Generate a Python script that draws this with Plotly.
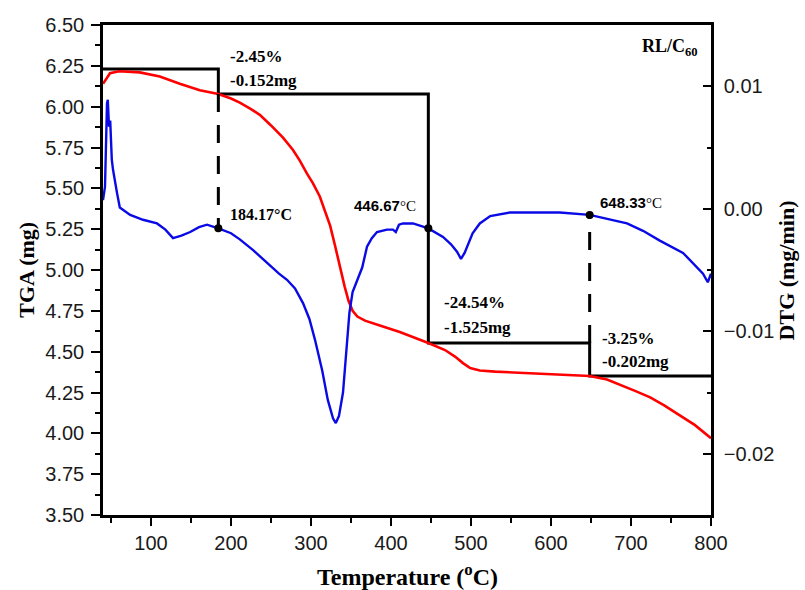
import plotly.graph_objects as go

# ---------------- data ----------------
tga_temp = [40, 44, 48.75, 60, 86, 111, 136, 161, 184.17, 200, 211, 225, 236, 250, 265, 277.5,
            286, 295, 302.5, 311, 318, 324, 330, 336, 342, 347, 352, 358, 367.5, 386, 411,
            446.67, 467.5, 480, 490, 499, 511, 530, 561, 611, 648.33, 670, 686, 705, 724,
            742, 761, 780, 800]
tga_mass = [6.14, 6.17, 6.205, 6.217, 6.21, 6.185, 6.14, 6.10, 6.078, 6.05, 6.025, 5.985,
            5.95, 5.885, 5.81, 5.735, 5.67, 5.59, 5.53, 5.45, 5.36, 5.27, 5.15, 5.02, 4.90,
            4.81, 4.75, 4.715, 4.69, 4.66, 4.62, 4.553, 4.51, 4.47, 4.43, 4.40, 4.385, 4.378,
            4.37, 4.357, 4.351, 4.33, 4.30, 4.26, 4.22, 4.17, 4.11, 4.05, 3.97]

dtg_temp = [40, 42.5, 45, 46, 47.5, 49, 51, 52.5, 57.5, 61, 74, 90, 107.5, 118, 127.5, 138,
            149, 160, 170, 184.17, 200, 211, 228, 245, 260, 270, 280, 290, 298, 305, 314,
            321, 327.5, 331, 335, 340, 344, 348, 352, 358, 364, 370, 376, 382.5, 395, 402.5,
            406, 410, 415, 427.5, 446.67, 465, 475, 482.5, 487.5, 492, 496, 502, 511, 524,
            549, 611, 648.33, 670, 695, 715, 736, 765, 790, 796, 800]
dtg_rate = [0.0007, 0.0018, 0.0086, 0.0089, 0.0067, 0.0072, 0.0040, 0.0032, 0.0013, 0.0001,
            -0.0005, -0.0009, -0.0012, -0.0017, -0.0024, -0.0022, -0.0019, -0.0015, -0.0013,
            -0.0016, -0.0020, -0.0025, -0.0034, -0.0044, -0.0053, -0.0058, -0.0065, -0.0077,
            -0.0090, -0.0107, -0.0132, -0.0156, -0.0171, -0.0175, -0.0169, -0.0150, -0.0115,
            -0.0085, -0.0068, -0.0058, -0.0048, -0.0031, -0.0024, -0.0019, -0.0017, -0.0017,
            -0.0019, -0.0013, -0.0012, -0.0012, -0.0016, -0.0023, -0.0029, -0.0035, -0.0041,
            -0.0036, -0.0030, -0.0020, -0.0012, -0.0006, -0.0003, -0.0003, -0.0005, -0.0008,
            -0.0012, -0.0018, -0.0026, -0.0036, -0.0053, -0.0060, -0.0053]

initial_mass = 6.23
step_temps = [184.17, 446.67, 648.33]
step_loss_mg = [0.152, 1.525, 0.202]
step_loss_pct = ["-2.45%", "-24.54%", "-3.25%"]
step_loss_lbl = ["-0.152mg", "-1.525mg", "-0.202mg"]
peak_dtg = [-0.0016, -0.0016, -0.0005]
peak_labels = ["184.17°C", "446.67°C", "648.33°C"]

x_range = [40, 800]
y1_range = [3.5, 6.5]
y2_range = [-0.025, 0.015]

# ---------------- derived step levels ----------------
levels = [initial_mass]
for d in step_loss_mg:
    levels.append(levels[-1] - d)

step_x = [x_range[0]]
step_y = [levels[0]]
for i, t in enumerate(step_temps):
    step_x += [t, t]
    step_y += [levels[i], levels[i + 1]]
step_x.append(x_range[1])
step_y.append(levels[-1])


def y2_to_y1(v):
    return y1_range[0] + (v - y2_range[0]) / (y2_range[1] - y2_range[0]) * (y1_range[1] - y1_range[0])


SERIF = "Liberation Serif, Times New Roman, serif"
SANS = "Liberation Sans, Arial, sans-serif"

fig = go.Figure()

fig.add_trace(go.Scatter(x=step_x, y=step_y, mode="lines",
                         line=dict(color="black", width=3), showlegend=False, hoverinfo="skip"))
fig.add_trace(go.Scatter(x=tga_temp, y=tga_mass, mode="lines",
                         line=dict(color="#ff0000", width=2.6),
                         showlegend=False, name="TGA"))
fig.add_trace(go.Scatter(x=dtg_temp, y=dtg_rate, mode="lines", yaxis="y2",
                         line=dict(color="#0a0ae6", width=2.4), showlegend=False, name="DTG"))
fig.add_trace(go.Scatter(x=step_temps, y=peak_dtg, mode="markers", yaxis="y2",
                         marker=dict(color="black", size=8), showlegend=False, hoverinfo="skip"))

# dashed connectors (184.17 and 648.33)
dash_pairs = [(step_temps[0], levels[1], peak_dtg[0]), (step_temps[2], levels[2], peak_dtg[2])]
for t, lvl, pk in dash_pairs:
    fig.add_shape(type="line", xref="x", yref="y", x0=t, x1=t, y0=lvl, y1=y2_to_y1(pk),
                  line=dict(color="black", width=3, dash="18px,13px"))

ann = []
# loss labels
loss_pos = [(196, 6.31, 6.163), (463.5, 4.798, 4.651), (661, 4.578, 4.437)]
for (xx, ya, yb), p, m in zip(loss_pos, step_loss_pct, step_loss_lbl):
    ann.append(dict(x=xx, y=ya, text="<b>" + p + "</b>", xref="x", yref="y", xanchor="left",
                    yanchor="middle", showarrow=False,
                    font=dict(family=SERIF, size=17, color="black")))
    ann.append(dict(x=xx, y=yb, text="<b>" + m + "</b>", xref="x", yref="y", xanchor="left",
                    yanchor="middle", showarrow=False,
                    font=dict(family=SERIF, size=17, color="black")))

# peak labels
ann.append(dict(x=196, y=5.337, text="<b>184.17°C</b>", xref="x", yref="y", xanchor="left",
                yanchor="middle", showarrow=False, font=dict(family=SERIF, size=16, color="black")))
for xx, yy, lbl in [(351, 5.392, peak_labels[1]), (658.5, 5.416, peak_labels[2])]:
    num, unit = lbl[:-2], lbl[-2:]
    ann.append(dict(x=xx, y=yy, xref="x", yref="y", xanchor="left", yanchor="middle",
                    text="<b>" + num + "</b><span style='font-family:Liberation Serif'>" + unit + "</span>",
                    showarrow=False, font=dict(family=SANS, size=15, color="black")))

# sample name
ann.append(dict(x=711, y=6.36, text="<b>RL/C<sub>60</sub></b>", xref="x", yref="y",
                xanchor="left", yanchor="middle", showarrow=False,
                font=dict(family=SERIF, size=18, color="black")))

# axis titles
ann.append(dict(x=-0.127, y=0.5, xref="paper", yref="paper", text="<b>TGA (mg)</b>",
                textangle=-90, showarrow=False, xanchor="center", yanchor="middle",
                font=dict(family=SERIF, size=22, color="black")))
ann.append(dict(x=1.124, y=0.5, xref="paper", yref="paper", text="<b>DTG (mg/min)</b>",
                textangle=-90, showarrow=False, xanchor="center", yanchor="middle",
                font=dict(family=SERIF, size=22, color="black")))
ann.append(dict(x=0.5, y=-0.122, xref="paper", yref="paper",
                text="<b>Temperature (<sup>o</sup>C)</b>", showarrow=False,
                xanchor="center", yanchor="middle", font=dict(family=SERIF, size=24, color="black")))

tickfont = dict(family=SANS, size=20, color="#1a1a1a")

fig.update_layout(
    width=805, height=590,
    margin=dict(l=103, r=94, t=25, b=75),
    paper_bgcolor="white", plot_bgcolor="white",
    annotations=ann,
    xaxis=dict(range=x_range, dtick=100, tick0=0, showgrid=False, zeroline=False,
               showline=True, linecolor="black", linewidth=2.5, mirror=True,
               ticks="outside", ticklen=8, tickwidth=2, tickcolor="black",
               minor=dict(dtick=50, tick0=0, ticks="outside", ticklen=5, tickwidth=2,
                          tickcolor="black", showgrid=False),
               tickfont=tickfont),
    yaxis=dict(range=y1_range, dtick=0.25, tick0=0, tickformat=".2f", showgrid=False,
               zeroline=False, showline=True, linecolor="black", linewidth=2.5,
               ticks="outside", ticklen=9, tickwidth=2, tickcolor="black",
               minor=dict(dtick=0.125, tick0=0, ticks="outside", ticklen=5, tickwidth=2,
                          tickcolor="black", showgrid=False),
               tickfont=tickfont, ticklabelstandoff=3),
    yaxis2=dict(range=y2_range, dtick=0.01, tick0=0, tickformat=".2f", overlaying="y",
                side="right", showgrid=False, zeroline=False, showline=True,
                linecolor="black", linewidth=2.5, ticks="inside", ticklen=8, tickwidth=2,
                tickcolor="black",
                minor=dict(dtick=0.005, tick0=0, ticks="inside", ticklen=4, tickwidth=2,
                           tickcolor="black", showgrid=False),
                tickfont=tickfont, ticklabelstandoff=6),
)

fig.write_html("out.html")
